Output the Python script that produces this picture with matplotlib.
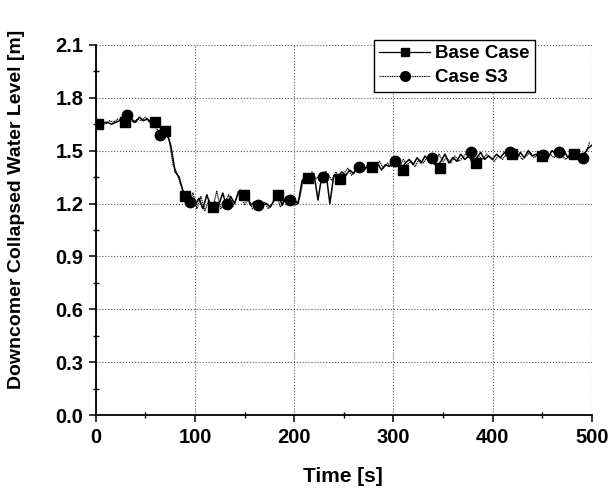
import numpy as np
import matplotlib
matplotlib.use("Agg")
import matplotlib.pyplot as plt
from matplotlib.ticker import MultipleLocator, FormatStrFormatter

plt.rcParams['font.family'] = ['Liberation Sans', 'DejaVu Sans']
plt.rcParams['font.weight'] = 'bold'

# Base Case trace, every 4 s
base_t = np.arange(0, 501, 4)
base_v = [
    1.65, 1.65, 1.66, 1.66, 1.65, 1.66, 1.67, 1.66, 1.67, 1.68,
    1.66, 1.69, 1.67, 1.68, 1.66, 1.67, 1.64, 1.62, 1.60, 1.52,
    1.38, 1.35, 1.27, 1.22, 1.24, 1.19, 1.23, 1.17, 1.25, 1.18,
    1.21, 1.19, 1.26, 1.18, 1.24, 1.20, 1.27, 1.22, 1.25, 1.19,
    1.21, 1.18, 1.19, 1.20, 1.18, 1.22, 1.25, 1.19, 1.24, 1.21,
    1.22, 1.20, 1.33, 1.35, 1.34, 1.37, 1.22, 1.36, 1.38, 1.20,
    1.36, 1.35, 1.38, 1.36, 1.39, 1.37, 1.41, 1.38, 1.40, 1.42,
    1.40, 1.43, 1.39, 1.42, 1.41, 1.44, 1.42, 1.39, 1.43, 1.45,
    1.42, 1.46, 1.43, 1.47, 1.44, 1.45, 1.41, 1.44, 1.48, 1.43,
    1.46, 1.44, 1.48, 1.45, 1.47, 1.43, 1.46, 1.49, 1.45, 1.47,
    1.45, 1.48, 1.46, 1.49, 1.47, 1.48, 1.45, 1.49, 1.46, 1.50,
    1.47, 1.48, 1.45, 1.49, 1.46, 1.50, 1.48, 1.47, 1.50, 1.46,
    1.49, 1.47, 1.46, 1.48, 1.51, 1.53,
]

# Case S3 trace, every 4 s starting at 2 s
s3_t = np.arange(2, 500, 4)
s3_v = [
    1.64, 1.66, 1.65, 1.67, 1.66, 1.68, 1.67, 1.70, 1.68, 1.66,
    1.68, 1.67, 1.69, 1.66, 1.65, 1.62, 1.59, 1.60, 1.56, 1.42,
    1.37, 1.30, 1.24, 1.21, 1.26, 1.17, 1.24, 1.16, 1.22, 1.18,
    1.27, 1.17, 1.20, 1.25, 1.18, 1.23, 1.28, 1.19, 1.23, 1.17,
    1.19, 1.18, 1.21, 1.17, 1.20, 1.26, 1.18, 1.22, 1.19, 1.21,
    1.19, 1.24, 1.36, 1.33, 1.38, 1.34, 1.36, 1.35, 1.37, 1.33,
    1.38, 1.34, 1.37, 1.40, 1.36, 1.39, 1.41, 1.38, 1.42, 1.39,
    1.41, 1.44, 1.40, 1.43, 1.41, 1.44, 1.40, 1.45, 1.42, 1.44,
    1.41, 1.45, 1.43, 1.46, 1.46, 1.42, 1.48, 1.44, 1.46, 1.43,
    1.47, 1.44, 1.46, 1.49, 1.48, 1.44, 1.47, 1.45, 1.48, 1.46,
    1.44, 1.47, 1.45, 1.48, 1.49, 1.46, 1.48, 1.45, 1.47, 1.49,
    1.46, 1.48, 1.47, 1.45, 1.48, 1.46, 1.49, 1.47, 1.45, 1.48,
    1.46, 1.49, 1.46, 1.48, 1.55,
]

# symbol positions
base_mt = [2, 29, 60, 70, 90, 118, 149, 184, 214, 246, 279, 310, 347, 383, 420, 450, 482]
base_mv = [1.65, 1.66, 1.66, 1.61, 1.24, 1.18, 1.25, 1.25, 1.345, 1.34, 1.41, 1.39, 1.40, 1.43, 1.48, 1.47, 1.48]
s3_mt = [31, 65, 95, 132, 164, 196, 229, 265, 302, 339, 378, 418, 451, 467, 491]
s3_mv = [1.70, 1.59, 1.21, 1.20, 1.19, 1.22, 1.35, 1.41, 1.44, 1.46, 1.49, 1.49, 1.475, 1.49, 1.46]

fig = plt.figure(figsize=(6.10, 4.93), dpi=100)
ax = fig.add_axes([0.157, 0.158, 0.813, 0.751])

ax.plot(base_t, base_v, color='black', lw=1.1, zorder=3)
ax.plot(base_mt, base_mv, ls='none', marker='s', ms=6.5, color='black', zorder=4)
ax.plot(s3_t, s3_v, color='black', lw=0.9, ls=(0, (1, 0.6)), zorder=3)
ax.plot(s3_mt, s3_mv, ls='none', marker='o', ms=7.5, color='black', zorder=4)

# legend proxies
ax.plot([], [], color='black', lw=0.9, marker='s', ms=6, label='Base Case')
ax.plot([], [], color='black', lw=0.8, ls=(0, (1, 0.6)), marker='o', ms=7, label='Case S3')
leg = ax.legend(loc='upper right', bbox_to_anchor=(0.885, 1.014), fontsize=13.5,
                frameon=True, fancybox=False, edgecolor='black', framealpha=1,
                handlelength=2.7, handletextpad=0.25, borderpad=0.3,
                labelspacing=0.35, borderaxespad=0)
leg.get_frame().set_linewidth(1.0)

ax.set_xlim(0, 500)
ax.set_ylim(0.0, 2.1)
ax.xaxis.set_major_locator(MultipleLocator(100))
ax.xaxis.set_minor_locator(MultipleLocator(50))
ax.yaxis.set_major_locator(MultipleLocator(0.3))
ax.yaxis.set_minor_locator(MultipleLocator(0.15))
ax.yaxis.set_major_formatter(FormatStrFormatter('%.1f'))

ax.spines['top'].set_visible(False)
ax.spines['right'].set_visible(False)
ax.spines['left'].set_linewidth(1.3)
ax.spines['bottom'].set_linewidth(1.3)
ax.tick_params(which='major', direction='out', length=5, width=1.1, labelsize=14.5, pad=4)
ax.tick_params(which='minor', direction='inout', length=4, width=1)

ax.grid(True, which='major', color='#555555', ls=':', lw=0.8)

ax.set_xlabel('Time [s]', fontsize=15, fontweight='bold')
ax.set_ylabel('Downcomer Collapsed Water Level [m]', fontsize=14, fontweight='bold')
ax.xaxis.set_label_coords(0.498, -0.14)
ax.yaxis.set_label_coords(-0.143, 0.557)

fig.savefig('out.png', dpi=100)
